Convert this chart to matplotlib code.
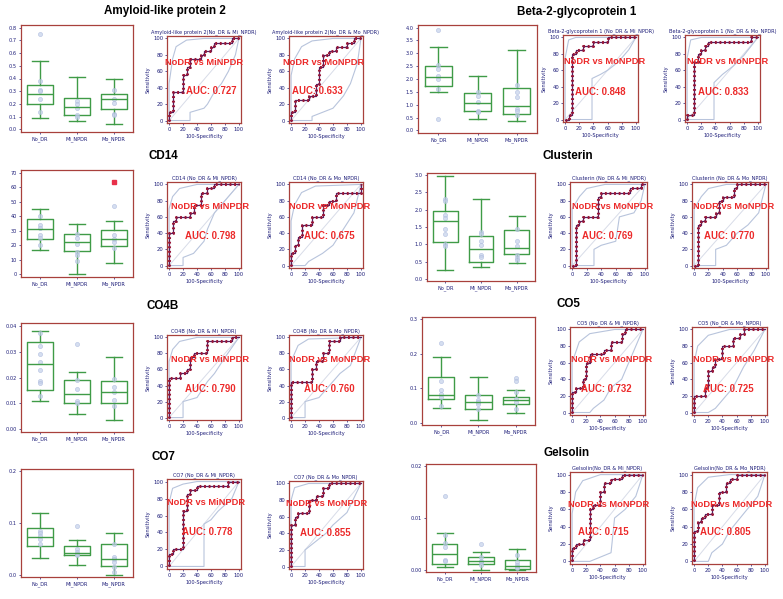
import matplotlib
matplotlib.use("Agg")
import matplotlib.pyplot as plt

W, H = 783, 599
groups = ["No_DR", "Mi_NPDR", "Mo_NPDR"]

# ---- Amyloid-like protein 2
amy_stats = [[0.09, 0.20, 0.28, 0.35, 0.54], [0.07, 0.11, 0.18, 0.25, 0.41], [0.04, 0.16, 0.24, 0.28, 0.40]]
amy_points = [[0.75, 0.38, 0.31, 0.30, 0.24, 0.14], [0.22, 0.20, 0.17, 0.11, 0.10], [0.31, 0.24, 0.21, 0.12, 0.11]]
amy_roc_mi = ([0, 0, 5, 5, 20, 20, 25, 25, 30, 30, 45, 45, 50, 50, 60, 60, 65, 65, 90, 90, 100],
              [0, 10, 10, 35, 35, 55, 55, 65, 65, 75, 75, 80, 80, 85, 85, 90, 90, 95, 95, 100, 100])
amy_roc_mo = ([0, 0, 5, 5, 25, 25, 35, 35, 40, 40, 45, 45, 55, 55, 65, 65, 80, 80, 90, 90, 100],
              [0, 10, 10, 25, 25, 30, 30, 45, 45, 65, 65, 80, 80, 85, 85, 90, 90, 95, 95, 100, 100])
amy_band_mi = ([0, 0, 5, 10, 25, 50, 100], [0, 45, 75, 90, 98, 100, 100],
               [0, 30, 30, 50, 55, 65, 75, 85, 95, 100], [0, 0, 10, 15, 20, 35, 45, 60, 80, 100])
amy_band_mo = ([0, 0, 5, 15, 30, 60, 100], [0, 55, 75, 90, 97, 100, 100],
               [0, 30, 30, 45, 60, 75, 85, 95, 100], [0, 0, 5, 10, 15, 30, 45, 70, 100])

# ---- Beta-2-glycoprotein 1
b2g_stats = [[1.50, 1.72, 2.08, 2.52, 3.25], [0.45, 0.77, 1.07, 1.45, 2.10], [0.37, 0.62, 0.95, 1.65, 3.12]]
b2g_points = [[3.90, 2.55, 2.40, 2.10, 2.00, 1.60, 0.45], [1.50, 1.35, 1.10, 0.75, 0.70], [1.75, 1.50, 1.30, 0.85, 0.75, 0.60]]
b2g_roc_mi = ([0, 5, 5, 10, 10, 15, 15, 25, 25, 40, 40, 60, 60, 100],
              [0, 0, 5, 5, 80, 80, 85, 85, 90, 90, 95, 95, 100, 100])
b2g_roc_mo = ([0, 0, 10, 10, 15, 15, 20, 20, 25, 25, 30, 30, 90, 90, 100],
              [0, 5, 5, 70, 70, 80, 80, 85, 85, 90, 90, 95, 95, 100, 100])
b2g_band_mi = ([0, 0, 5, 15, 100], [0, 75, 97, 100, 100],
               [0, 38, 38, 50, 60, 75, 90, 100], [0, 0, 50, 55, 60, 70, 85, 100])
b2g_band_mo = ([0, 0, 5, 20, 100], [0, 75, 97, 100, 100],
               [0, 38, 38, 50, 65, 80, 100], [0, 0, 45, 55, 65, 78, 100])

# ---- CD14
cd14_stats = [[17, 24.5, 31, 38, 45], [0, 16, 22, 27.5, 35], [8, 19.5, 24.5, 30.5, 37]]
cd14_points = [[40, 34, 32, 27, 25, 20], [28, 25, 21, 15, 13, 9], [47, 27, 24, 22, 18]]
cd14_outlier = 64
cd14_roc_mi = ([0, 0, 5, 5, 10, 10, 30, 30, 35, 35, 45, 45, 55, 55, 65, 65, 100],
               [0, 40, 40, 55, 55, 60, 60, 65, 65, 75, 75, 90, 90, 95, 95, 100, 100])
cd14_roc_mo = ([0, 0, 5, 5, 10, 10, 15, 15, 30, 30, 45, 45, 55, 55, 65, 65, 100, 100],
               [0, 15, 15, 25, 25, 35, 35, 50, 50, 60, 60, 75, 75, 80, 80, 90, 90, 100])
cd14_band_mi = ([0, 0, 5, 15, 40, 100], [0, 70, 85, 95, 100, 100],
                [0, 20, 20, 35, 50, 55, 65, 80, 100], [0, 0, 10, 15, 30, 45, 65, 80, 100])
cd14_band_mo = ([0, 0, 5, 15, 35, 100], [0, 55, 75, 90, 98, 100],
                [0, 20, 25, 45, 60, 75, 90, 100], [0, 0, 5, 15, 25, 45, 65, 100])

# ---- Clusterin
clu_stats = [[0.25, 1.07, 1.68, 1.95, 2.98], [0.35, 0.48, 0.86, 1.25, 2.32], [0.45, 0.72, 0.90, 1.42, 1.82]]
clu_points = [[2.30, 2.25, 1.85, 1.75, 1.45, 1.30, 1.00, 0.95], [1.35, 1.30, 1.10, 0.98, 0.70, 0.62], [1.45, 1.10, 0.95, 0.70, 0.60, 0.55]]
clu_roc_mi = ([0, 5, 5, 10, 10, 15, 15, 35, 35, 40, 40, 80, 80, 95, 95, 100],
              [0, 0, 50, 50, 55, 55, 60, 60, 85, 85, 90, 90, 95, 95, 100, 100])
clu_roc_mo = ([0, 5, 5, 10, 10, 15, 15, 30, 30, 35, 35, 40, 40, 55, 55, 60, 60, 100],
              [0, 0, 50, 50, 55, 55, 60, 60, 65, 65, 80, 80, 85, 85, 95, 95, 100, 100])
clu_band_mi = ([0, 0, 10, 20, 45, 100], [0, 70, 85, 95, 100, 100],
               [0, 30, 30, 40, 60, 65, 85, 95, 100], [0, 0, 20, 25, 30, 60, 65, 80, 100])
clu_band_mo = ([0, 0, 10, 20, 45, 100], [0, 70, 85, 95, 100, 100],
               [0, 30, 30, 45, 60, 75, 90, 100], [0, 0, 20, 25, 40, 50, 65, 100])

# ---- CO4B
c4b_stats = [[0.011, 0.015, 0.0253, 0.0335, 0.038], [0.006, 0.010, 0.0135, 0.019, 0.022], [0.0035, 0.010, 0.0145, 0.0185, 0.028]]
c4b_points = [[0.037, 0.032, 0.029, 0.026, 0.023, 0.0185, 0.018, 0.013], [0.033, 0.019, 0.0155, 0.011, 0.010], [0.0195, 0.0165, 0.0145, 0.0115, 0.009]]
c4b_roc_mi = ([0, 0, 15, 15, 25, 25, 30, 30, 35, 35, 55, 55, 90, 90, 100],
              [0, 50, 50, 55, 55, 60, 60, 75, 75, 80, 80, 95, 95, 100, 100])
c4b_roc_mo = ([0, 0, 30, 30, 35, 35, 45, 45, 55, 55, 70, 70, 100],
              [0, 45, 45, 60, 60, 70, 70, 80, 80, 95, 95, 100, 100])
c4b_band_mi = ([0, 0, 5, 15, 40, 100], [0, 70, 85, 95, 100, 100],
               [0, 20, 20, 40, 55, 65, 80, 100], [0, 0, 20, 25, 45, 55, 75, 100])
c4b_band_mo = ([0, 0, 10, 25, 100], [0, 70, 90, 98, 100],
               [0, 20, 20, 40, 55, 70, 85, 100], [0, 0, 20, 25, 40, 55, 65, 100])

# ---- CO5
co5_stats = [[0.043, 0.068, 0.080, 0.133, 0.190], [0.008, 0.040, 0.060, 0.082, 0.133], [0.028, 0.055, 0.065, 0.075, 0.096]]
co5_points = [[0.23, 0.12, 0.095, 0.085, 0.075, 0.05], [0.08, 0.065, 0.06, 0.055, 0.04], [0.13, 0.12, 0.09, 0.07, 0.06, 0.04]]
co5_roc_mi = ([0, 0, 5, 5, 15, 15, 20, 20, 25, 25, 45, 45, 55, 55, 70, 70, 75, 75, 100],
              [0, 25, 25, 30, 30, 40, 40, 60, 60, 70, 70, 75, 75, 85, 85, 95, 95, 100, 100])
co5_roc_mo = ([0, 0, 15, 15, 20, 20, 25, 25, 30, 30, 40, 40, 55, 55, 65, 65, 70, 70, 100],
              [0, 20, 20, 30, 30, 50, 50, 55, 55, 65, 65, 80, 80, 90, 90, 95, 95, 100, 100])
co5_band_mi = ([0, 0, 10, 25, 60, 100], [0, 60, 85, 95, 100, 100],
               [0, 25, 30, 45, 55, 70, 80, 100], [0, 0, 5, 15, 30, 40, 60, 100])
co5_band_mo = ([0, 0, 5, 20, 50, 100], [0, 60, 80, 93, 100, 100],
               [0, 20, 30, 40, 55, 70, 85, 100], [0, 0, 5, 15, 30, 55, 75, 100])

# ---- CO7
co7_stats = [[0.033, 0.055, 0.074, 0.090, 0.120], [0.020, 0.038, 0.042, 0.056, 0.068], [0.000, 0.018, 0.030, 0.060, 0.080]]
co7_points = [[0.085, 0.08, 0.075, 0.07, 0.06], [0.095, 0.05, 0.045, 0.04, 0.038], [0.06, 0.035, 0.03, 0.025, 0.015, 0.005]]
co7_roc_mi = ([0, 0, 5, 5, 20, 20, 25, 25, 30, 30, 40, 40, 85, 85, 100],
              [0, 15, 15, 20, 20, 65, 65, 85, 85, 90, 90, 95, 95, 100, 100])
co7_roc_mo = ([0, 0, 5, 5, 10, 10, 25, 25, 35, 35, 45, 45, 55, 55, 100],
              [0, 50, 50, 60, 60, 65, 65, 80, 80, 85, 85, 95, 95, 100, 100])
co7_band_mi = ([0, 0, 5, 20, 40, 100], [0, 75, 92, 97, 100, 100],
               [0, 50, 50, 60, 70, 90, 100], [0, 0, 50, 55, 65, 80, 100])
co7_band_mo = ([0, 0, 5, 25, 100], [0, 80, 95, 100, 100],
               [0, 20, 20, 35, 50, 60, 80, 100], [0, 0, 20, 30, 40, 50, 65, 100])

# ---- Gelsolin
gel_stats = [[0.0005, 0.0012, 0.0030, 0.0050, 0.0072], [0.0, 0.0011, 0.0017, 0.0024, 0.0035], [0.0, 0.0002, 0.0008, 0.0020, 0.0040]]
gel_points = [[0.0143, 0.0067, 0.0052, 0.0045, 0.0020, 0.0018], [0.0050, 0.0025, 0.0018, 0.0015, 0.0010], [0.0028, 0.0015, 0.0010, 0.0006, 0.0003]]
gel_roc_mi = ([0, 0, 5, 5, 15, 15, 25, 25, 30, 30, 40, 40, 45, 45, 55, 55, 70, 70, 100],
              [0, 15, 15, 20, 20, 25, 25, 60, 60, 65, 65, 80, 80, 90, 90, 95, 95, 100, 100])
gel_roc_mo = ([0, 0, 5, 5, 10, 10, 15, 15, 25, 25, 35, 35, 45, 45, 50, 50, 60, 60, 100],
              [0, 35, 35, 45, 45, 50, 50, 55, 55, 65, 65, 80, 80, 90, 90, 95, 95, 100, 100])
gel_band_mi = ([0, 0, 5, 15, 40, 100], [0, 55, 80, 93, 100, 100],
               [0, 25, 40, 55, 60, 75, 90, 100], [0, 0, 5, 10, 50, 60, 75, 100])
gel_band_mo = ([0, 0, 5, 20, 50, 100], [0, 65, 85, 97, 100, 100],
               [0, 20, 25, 40, 50, 60, 75, 90, 100], [0, 0, 10, 20, 35, 45, 60, 75, 100])

navy = "#1c1c78"
frame = "#a8403c"
green = "#3f9b47"


def px(l, t, r, b):
    return [l / W, 1 - b / H, (r - l) / W, (b - t) / H]


def box_panel(rect, stats, points, ylim, yticks, ylabels, fliers_red=None):
    ax = fig.add_axes(px(*rect))
    bxp = []
    for s in stats:
        bxp.append({"whislo": s[0], "q1": s[1], "med": s[2], "q3": s[3], "whishi": s[4], "fliers": []})
    ax.bxp(bxp, positions=[1, 2, 3], widths=0.7, capwidths=0.45, showfliers=False,
           boxprops=dict(color=green, linewidth=1.0), whiskerprops=dict(color=green, linewidth=1.0),
           capprops=dict(color=green, linewidth=1.0), medianprops=dict(color=green, linewidth=1.0))
    for i, pts in enumerate(points):
        ax.plot([i + 1] * len(pts), pts, "o", ms=3, mfc="#c4d0ea", mec="#aab8dc", mew=0.5, alpha=0.7)
    if fliers_red is not None:
        ax.plot([3], [fliers_red], "s", ms=2.5, color="#e8304a")
    ax.set_xlim(0.48, 3.52)
    ax.set_ylim(*ylim)
    ax.set_xticks([1, 2, 3])
    ax.set_xticklabels(groups)
    ax.set_yticks(yticks)
    ax.set_yticklabels(ylabels)
    ax.tick_params(labelsize=3.6, colors=navy, length=1.5, width=0.5, pad=1.5)
    for sp in ax.spines.values():
        sp.set_color(frame)
        sp.set_linewidth(0.9)
    return ax


def roc_panel(rect, roc, band, title, label, auc, lab_pos, auc_pos):
    ax = fig.add_axes(px(*rect))
    ax.plot([0, 100], [0, 100], color="#d8dce8", lw=0.7)
    ax.plot(band[0], band[1], color="#b8c4dc", lw=0.8)
    ax.plot(band[2], band[3], color="#b8c4dc", lw=0.8)
    ax.plot(roc[0], roc[1], color="#5a2060", lw=0.9)
    ax.plot(roc[0], roc[1], color="#9a1838", lw=2.2, linestyle=(0, (0.6, 0.9)))
    ax.set_xlim(-3, 103)
    ax.set_ylim(-3, 103)
    ax.set_xticks(range(0, 101, 20))
    ax.set_yticks(range(0, 101, 20))
    ax.tick_params(labelsize=3.8, colors=navy, length=1.5, width=0.5, pad=1.2)
    ax.set_title(title, fontsize=3.6, color=navy, pad=2)
    ax.set_xlabel("100-Specificity", fontsize=3.6, color=navy, labelpad=1.5)
    ax.set_ylabel("Sensitivity", fontsize=3.6, color=navy, labelpad=1.5)
    for sp in ax.spines.values():
        sp.set_color(frame)
        sp.set_linewidth(0.9)
    ax.text(lab_pos[0], lab_pos[1], label, transform=ax.transAxes, ha="center", va="center",
            fontsize=6.7, color="#ec2a2a", family="Liberation Sans", fontweight="bold", clip_on=False)
    ax.text(auc_pos[0], auc_pos[1], "AUC: %.3f" % auc, transform=ax.transAxes, ha="center", va="center",
            fontsize=6.9, color="#ec2a2a", family="Liberation Sans", fontweight="bold", clip_on=False)
    return ax


fig = plt.figure(figsize=(W / 100, H / 100), dpi=100)

# titles
for txt, x, y in [("Amyloid-like protein 2", 165, 11), ("Beta-2-glycoprotein 1", 577, 12),
                  ("CD14", 163, 156), ("Clusterin", 568, 156), ("CO4B", 163, 306),
                  ("CO5", 568, 304), ("CO7", 163, 457), ("Gelsolin", 567, 453)]:
    fig.text(x / W, 1 - y / H, txt, ha="center", va="center", fontsize=8.4,
             fontweight="bold", family="Liberation Sans")

# Amyloid-like protein 2
box_panel((21, 25, 133, 132), amy_stats, amy_points, (-0.02, 0.82),
          [0, 0.1, 0.2, 0.3, 0.4, 0.5, 0.6, 0.7, 0.8], ["0.0", "0.1", "0.2", "0.3", "0.4", "0.5", "0.6", "0.7", "0.8"])
roc_panel((167, 36, 241, 123), amy_roc_mi, amy_band_mi, "Amyloid-like protein 2(No_DR & Mi_NPDR)",
          "NoDR vs MiNPDR", 0.727, (0.50, 0.70), (0.60, 0.37))
roc_panel((289, 36, 363, 123), amy_roc_mo, amy_band_mo, "Amyloid-like protein 2(No_DR & Mo_NPDR)",
          "NoDR vs MoNPDR", 0.633, (0.47, 0.70), (0.38, 0.37))

# Beta-2-glycoprotein 1
box_panel((418, 25, 537, 133), b2g_stats, b2g_points, (-0.1, 4.1),
          [0, 0.5, 1, 1.5, 2, 2.5, 3, 3.5, 4], ["0.0", "0.5", "1.0", "1.5", "2.0", "2.5", "3.0", "3.5", "4.0"])
roc_panel((563, 35, 638, 122), b2g_roc_mi, b2g_band_mi, "Beta-2-glycoprotein 1 (No_DR & Mi_NPDR)",
          "NoDR vs MoNPDR", 0.848, (0.56, 0.69), (0.50, 0.35))
roc_panel((685, 35, 760, 122), b2g_roc_mo, b2g_band_mo, "Beta-2-glycoprotein 1 (No_DR & Mo_NPDR)",
          "NoDR vs MoNPDR", 0.833, (0.57, 0.69), (0.51, 0.35))

# CD14
box_panel((21, 170, 133, 277), cd14_stats, cd14_points, (-2, 72),
          list(range(0, 71, 10)), [str(v) for v in range(0, 71, 10)], fliers_red=cd14_outlier)
roc_panel((167, 182, 241, 268), cd14_roc_mi, cd14_band_mi, "CD14 (No_DR & Mi_NPDR)",
          "NoDR vs MiNPDR", 0.798, (0.58, 0.71), (0.58, 0.37))
roc_panel((289, 182, 363, 268), cd14_roc_mo, cd14_band_mo, "CD14 (No_DR & Mo_NPDR)",
          "NoDR vs MoNPDR", 0.675, (0.55, 0.71), (0.54, 0.37))

# Clusterin
box_panel((427, 173, 535, 281), clu_stats, clu_points, (-0.06, 3.06),
          [0, 0.5, 1, 1.5, 2, 2.5, 3], ["0.0", "0.5", "1.0", "1.5", "2.0", "2.5", "3.0"])
roc_panel((570, 182, 647, 268), clu_roc_mi, clu_band_mi, "Clusterin (No_DR & Mi_NPDR)",
          "NoDR vs MoNPDR", 0.769, (0.55, 0.71), (0.48, 0.37))
roc_panel((692, 182, 768, 268), clu_roc_mo, clu_band_mo, "Clusterin (No_DR & Mo_NPDR)",
          "NoDR vs MoNPDR", 0.770, (0.55, 0.71), (0.49, 0.37))

# CO4B
box_panel((21, 323, 133, 432), c4b_stats, c4b_points, (-0.001, 0.041),
          [0, 0.01, 0.02, 0.03, 0.04], ["0.00", "0.01", "0.02", "0.03", "0.04"])
roc_panel((167, 335, 241, 420), c4b_roc_mi, c4b_band_mi, "CO4B (No_DR & Mi_NPDR)",
          "NoDR vs MiNPDR", 0.790, (0.58, 0.71), (0.58, 0.36))
roc_panel((289, 335, 363, 420), c4b_roc_mo, c4b_band_mo, "CO4B (No_DR & Mo_NPDR)",
          "NoDR vs MoNPDR", 0.760, (0.55, 0.71), (0.54, 0.36))

# CO5
box_panel((422, 317, 535, 425), co5_stats, co5_points, (-0.006, 0.306),
          [0, 0.1, 0.2, 0.3], ["0.0", "0.1", "0.2", "0.3"])
roc_panel((570, 327, 645, 415), co5_roc_mi, co5_band_mi, "CO5 (No_DR & Mi_NPDR)",
          "NoDR vs MoNPDR", 0.732, (0.56, 0.63), (0.49, 0.30))
roc_panel((692, 327, 767, 415), co5_roc_mo, co5_band_mo, "CO5 (No_DR & Mo_NPDR)",
          "NoDR vs MoNPDR", 0.725, (0.56, 0.63), (0.49, 0.30))

# CO7
box_panel((21, 469, 133, 577), co7_stats, co7_points, (-0.004, 0.204),
          [0, 0.1, 0.2], ["0.0", "0.1", "0.2"])
roc_panel((167, 479, 241, 569), co7_roc_mi, co7_band_mi, "CO7 (No_DR & Mi_NPDR)",
          "NoDR vs MiNPDR", 0.778, (0.53, 0.74), (0.54, 0.41))
roc_panel((289, 481, 363, 569), co7_roc_mo, co7_band_mo, "CO7 (No_DR & Mo_NPDR)",
          "NoDR vs MoNPDR", 0.855, (0.51, 0.74), (0.49, 0.41))

# Gelsolin
box_panel((426, 464, 536, 572), gel_stats, gel_points, (-0.0004, 0.0204),
          [0, 0.01, 0.02], ["0.00", "0.01", "0.02"])
roc_panel((570, 472, 645, 564), gel_roc_mi, gel_band_mi, "Gelsolin(No_DR & Mi_NPDR)",
          "NoDR vs MoNPDR", 0.715, (0.52, 0.65), (0.44, 0.35))
roc_panel((692, 472, 767, 564), gel_roc_mo, gel_band_mo, "Gelsolin(No_DR & Mo_NPDR)",
          "NoDR vs MoNPDR", 0.805, (0.53, 0.65), (0.45, 0.35))

fig.savefig("out.png", dpi=100)
